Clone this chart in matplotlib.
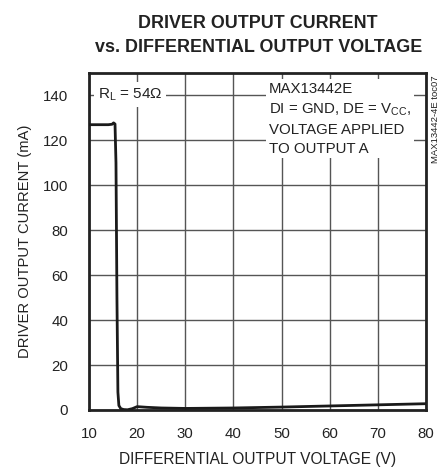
import matplotlib
matplotlib.use("Agg")
import matplotlib.pyplot as plt

voltage = [10, 12, 14, 14.8, 15.1, 15.4, 15.6, 15.8, 16.0, 16.2, 16.6, 17.2, 18, 19, 20, 22, 25, 30, 40, 50, 60, 70, 80]
current = [127, 127, 127, 127.2, 127.8, 127.3, 110, 50, 8, 2.0, 0.6, 0.2, 0.1, 0.6, 1.5, 1.2, 0.9, 0.7, 0.9, 1.3, 1.8, 2.3, 2.8]
x_ticks = [10, 20, 30, 40, 50, 60, 70, 80]
y_ticks = [0, 20, 40, 60, 80, 100, 120, 140]

plt.rcParams['font.family'] = ['Liberation Sans', 'DejaVu Sans']
ink = '#222222'

fig = plt.figure(figsize=(4.42, 4.69), dpi=100)
ax = fig.add_axes([0.2014, 0.1258, 0.7624, 0.7185])

ax.plot(voltage, current, color='#1a1a1a', lw=2.0, zorder=3)
ax.set_xlim(10, 80)
ax.set_ylim(0, 150)
ax.set_xticks(x_ticks)
ax.set_yticks(y_ticks)
ax.tick_params(axis='x', length=0, labelsize=10.8, pad=12, colors=ink)
ax.tick_params(axis='y', length=0, labelsize=10.8, pad=15, colors=ink)
ax.grid(True, color='#555555', lw=1.0)
for s in ax.spines.values():
    s.set_linewidth(2.0)
    s.set_color(ink)

ax.set_xlabel("DIFFERENTIAL OUTPUT VOLTAGE (V)", fontsize=11.2, color=ink)
ax.xaxis.set_label_coords(0.5, -0.148)
ax.xaxis.label.set_va('center')
ax.set_ylabel("DRIVER OUTPUT CURRENT (mA)", fontsize=10.6, color=ink)
ax.yaxis.set_label_coords(-0.19, 0.5)
ax.yaxis.label.set_va('center')

fig.text(0.584, 0.968, "DRIVER OUTPUT CURRENT\nvs. DIFFERENTIAL OUTPUT VOLTAGE",
         ha='center', va='top', fontsize=12.9, fontweight='bold', color=ink,
         linespacing=1.55)

ax.text(11.8, 140.4, "R$_\\mathregular{L}$ = 54\u03a9", fontsize=11, va='center', ha='left',
        color=ink, bbox=dict(facecolor='white', edgecolor='none', pad=3), zorder=4)
ax.text(47.4, 146.2, "MAX13442E\nDI = GND, DE = V$_\\mathregular{CC}$,\nVOLTAGE APPLIED\nTO OUTPUT A",
        fontsize=10.8, va='top', ha='left', color=ink, linespacing=1.45,
        bbox=dict(facecolor='white', edgecolor='none', pad=2), zorder=4)

fig.text(0.985, 0.84, "MAX13442-4E toc07", rotation=90, ha='center', va='top',
         fontsize=6.8, color=ink)

fig.savefig("out.png", dpi=100)
